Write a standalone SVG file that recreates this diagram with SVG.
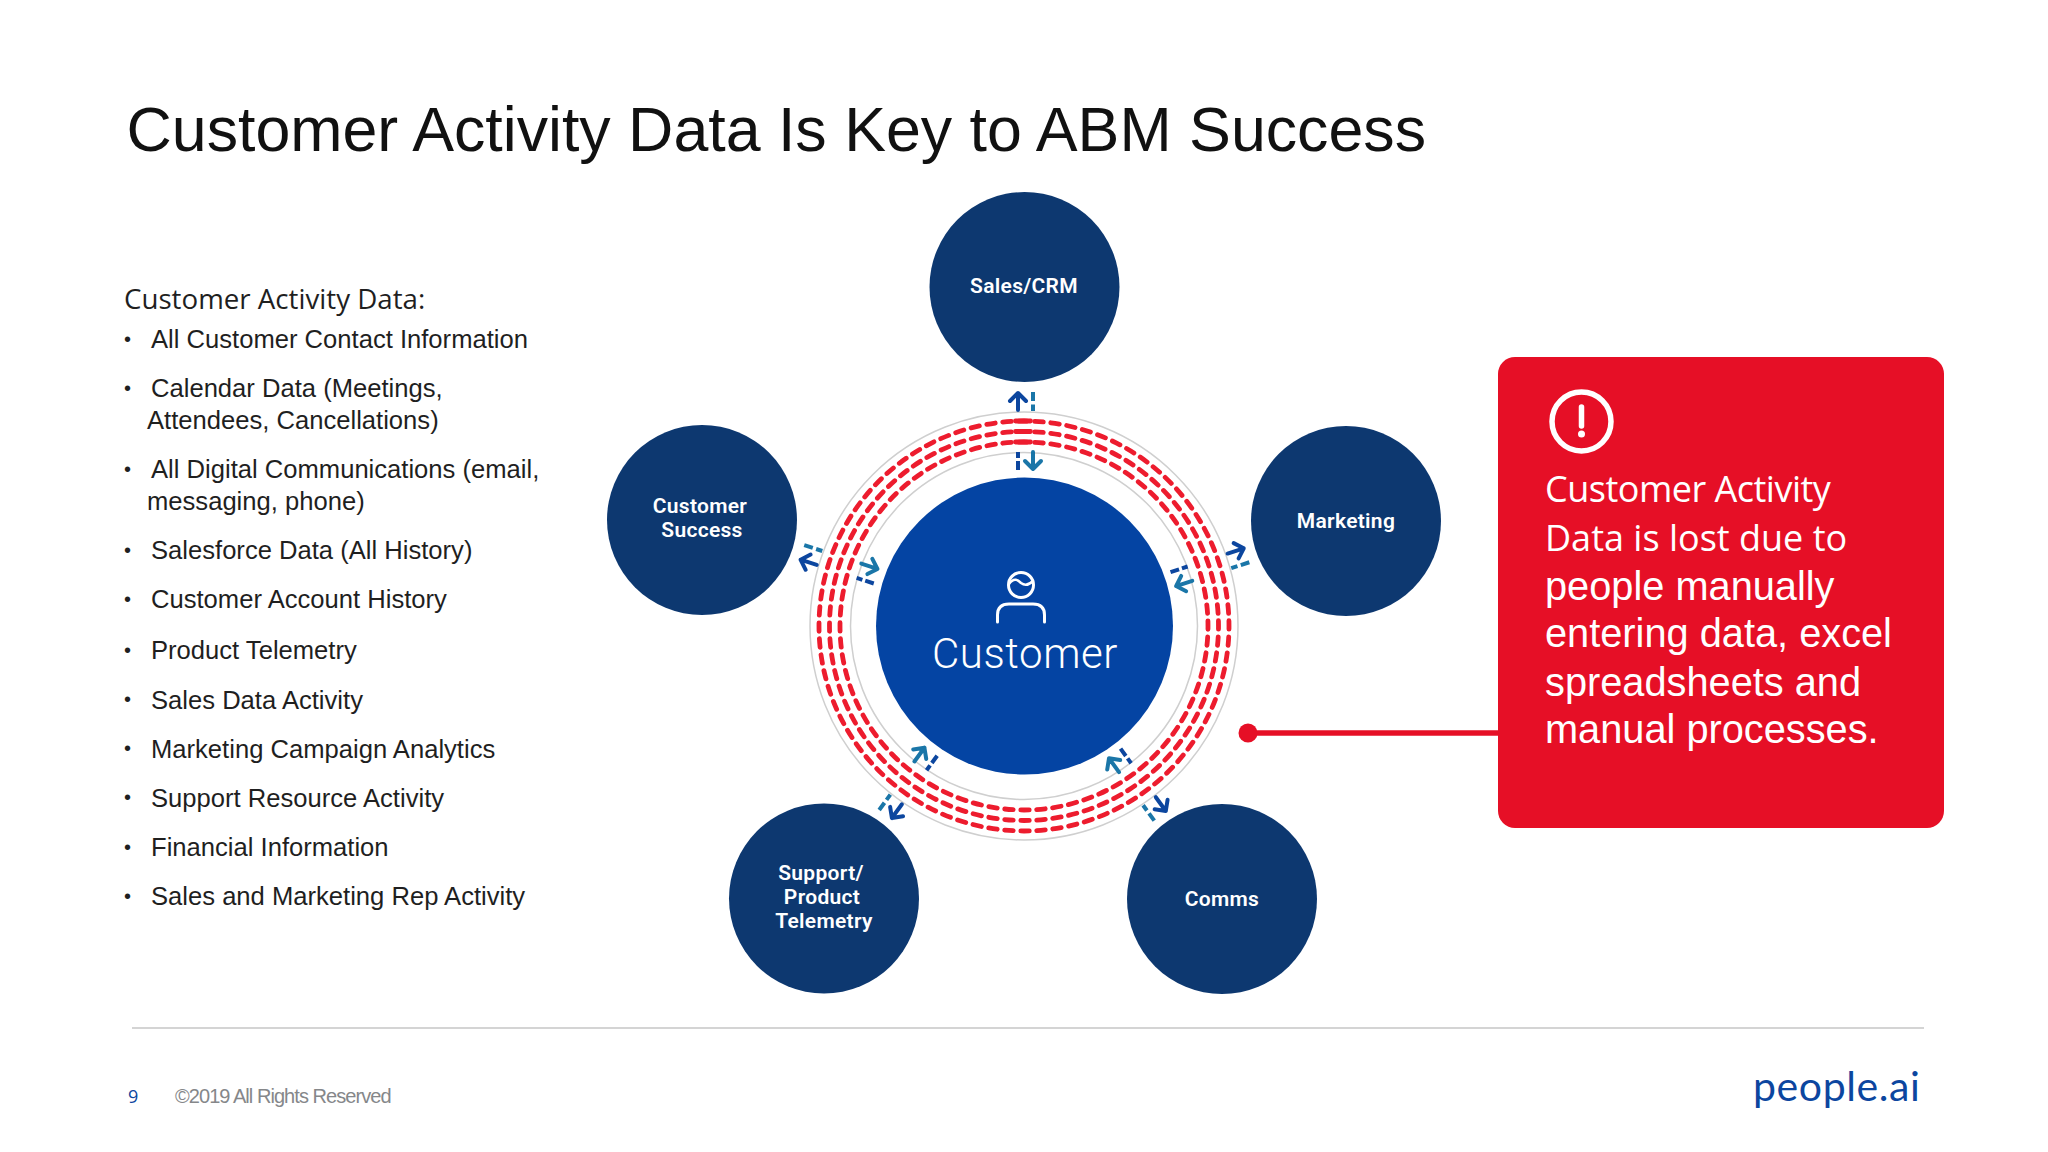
<svg xmlns="http://www.w3.org/2000/svg" width="2048" height="1152" viewBox="0 0 2048 1152">
<style>
.sans{font-family:"Liberation Sans",Arial,sans-serif}
.li{font-family:"Liberation Sans",Arial,sans-serif;font-size:25.6px;fill:#1f1f1f}
.bu{font-family:"Liberation Sans",Arial,sans-serif;font-size:20px;fill:#1f1f1f}
.node{fill:#0d3870}
.nl{font-family:Roboto,"Liberation Sans",sans-serif;font-size:21px;font-weight:600;letter-spacing:.3px;fill:#fff;text-anchor:middle}
.rt{font-family:"Liberation Sans",Arial,sans-serif;font-size:39.75px;fill:#fff}
.rc{font-family:"Open Sans","Liberation Sans",sans-serif;font-size:36px;fill:#fff}
.rd{fill:none;stroke:#ed1c2e;stroke-width:4.8;stroke-linecap:round;stroke-dasharray:.53 .47}
.rl{fill:none;stroke:#ed1c2e;stroke-width:4.8;stroke-linecap:round}
.a1{fill:none;stroke:#0c469f;stroke-width:4;stroke-linecap:round;stroke-linejoin:round}
.a2{fill:none;stroke:#1a76a8;stroke-width:4;stroke-linecap:round;stroke-linejoin:round}
.d1{fill:none;stroke:#0c469f;stroke-width:4}
.d2{fill:none;stroke:#1a76a8;stroke-width:4}
</style>
<defs>
<g id="arrows">
<path class="a1" d="M1018 410V393M1010 401L1018 393L1026 401"/>
<path class="d2" stroke-dasharray="9 3.5 7" d="M1033 392V411"/>
<path class="d1" stroke-dasharray="6 3 10" d="M1018 452V470"/>
<path class="a2" d="M1033 452V469M1025 461L1033 469L1041 461"/>
</g>
</defs>
<rect width="2048" height="1152" fill="#fff"/>
<text id="title" class="sans" x="126.5" y="150.5" font-size="62.7" fill="#111">Customer Activity Data Is Key to ABM Success</text>

<g id="list">
<text x="124" y="309" font-family="'Open Sans','Noto Sans',sans-serif" font-size="27.7" fill="#1f1f1f">Customer Activity Data:</text>
<g class="bu">
<text x="124" y="346">•</text><text x="124" y="395">•</text><text x="124" y="476">•</text><text x="124" y="557">•</text><text x="124" y="606">•</text><text x="124" y="657">•</text><text x="124" y="706">•</text><text x="124" y="755">•</text><text x="124" y="804">•</text><text x="124" y="854">•</text><text x="124" y="903">•</text>
</g>
<text class="li" x="151" y="348">All Customer Contact Information</text>
<text class="li" x="151" y="397">Calendar Data (Meetings,</text>
<text class="li" x="147" y="429">Attendees, Cancellations)</text>
<text class="li" x="151" y="478">All Digital Communications (email,</text>
<text class="li" x="147" y="510">messaging, phone)</text>
<text class="li" x="151" y="559">Salesforce Data (All History)</text>
<text class="li" x="151" y="608">Customer Account History</text>
<text class="li" x="151" y="659">Product Telemetry</text>
<text class="li" x="151" y="709">Sales Data Activity</text>
<text class="li" x="151" y="758">Marketing Campaign Analytics</text>
<text class="li" x="151" y="807">Support Resource Activity</text>
<text class="li" x="151" y="856">Financial Information</text>
<text class="li" x="151" y="905">Sales and Marketing Rep Activity</text>
</g>

<g id="connectors">
<circle cx="1024" cy="626" r="214" fill="none" stroke="#cfcfcf" stroke-width="1.5"/>
<circle cx="1024" cy="626" r="173.5" fill="none" stroke="#cfcfcf" stroke-width="1.5"/>
<circle class="rd" cx="1024" cy="626" r="205" pathLength="80" transform="rotate(-91.47 1024 626)"/>
<circle class="rd" cx="1024" cy="626" r="194.5" pathLength="76" transform="rotate(-91.55 1024 626)"/>
<circle class="rd" cx="1024" cy="626" r="184" pathLength="72" transform="rotate(-91.62 1024 626)"/>
<path class="rl" d="M1015.5 421H1030.5M1015.5 431.5H1030.5M1015.5 442H1030.5"/>
<use href="#arrows"/>
<use href="#arrows" transform="rotate(72 1024 626)"/>
<use href="#arrows" transform="rotate(144 1024 626)"/>
<use href="#arrows" transform="rotate(216 1024 626)"/>
<use href="#arrows" transform="rotate(288 1024 626)"/>
<path d="M1248 733H1498" stroke="#e60f26" stroke-width="5.5" fill="none"/>
<circle cx="1248" cy="733" r="9.5" fill="#e60f26"/>
</g>

<g id="customer">
<circle cx="1024.5" cy="626" r="148.5" fill="#0444a3"/>
<circle cx="1021" cy="585" r="12.5" fill="none" stroke="#fff" stroke-width="3"/>
<path d="M1009 584C1014 577 1018 580 1021 583C1025 586 1029 585 1033 581" fill="none" stroke="#fff" stroke-width="2.5"/>
<path d="M997.5 622V615Q997.5 604 1009 604H1033Q1044.5 604 1044.5 615V622" fill="none" stroke="#fff" stroke-width="3" stroke-linecap="round"/>
<text x="1025" y="668" font-family="Roboto,'Liberation Sans',sans-serif" font-weight="300" font-size="42" letter-spacing=".6" fill="#fff" text-anchor="middle">Customer</text>
</g>
<g id="sales-crm"><circle class="node" cx="1024.5" cy="287" r="95"/><text class="nl" x="1024" y="293">Sales/CRM</text></g>
<g id="customer-success"><circle class="node" cx="702" cy="520" r="95"/><text class="nl" x="700" y="513">Customer</text><text class="nl" x="702" y="537">Success</text></g>
<g id="marketing"><circle class="node" cx="1346" cy="521" r="95"/><text class="nl" x="1346" y="528">Marketing</text></g>
<g id="support"><circle class="node" cx="824" cy="898.5" r="95"/><text class="nl" x="821" y="880">Support/</text><text class="nl" x="822" y="904">Product</text><text class="nl" x="824" y="928">Telemetry</text></g>
<g id="comms"><circle class="node" cx="1222" cy="899" r="95"/><text class="nl" x="1222" y="906">Comms</text></g>

<g id="callout">
<rect x="1498" y="357" width="446" height="471" rx="17" fill="#e60f26"/>
<circle cx="1581.5" cy="421.5" r="29.5" fill="none" stroke="#fff" stroke-width="5.5"/>
<path d="M1581.5 407V426" stroke="#fff" stroke-width="5.5" stroke-linecap="round"/>
<circle cx="1581.5" cy="434" r="3.5" fill="#fff"/>
<text class="rc" x="1545" y="502" letter-spacing="-.5">Customer Activity</text>
<text class="rc" x="1545" y="551">Data is lost due to</text>
<text class="rt" x="1545" y="600">people manually</text>
<text class="rt" x="1545" y="647">entering data, excel</text>
<text class="rt" x="1545" y="696">spreadsheets and</text>
<text class="rt" x="1545" y="743">manual processes.</text>
</g>

<g id="footer">
<path d="M132 1028H1924" stroke="#d4d4d4" stroke-width="2"/>
<text x="128" y="1103" font-family="'Open Sans',sans-serif" font-size="18" fill="#0c469f">9</text>
<text x="175" y="1103" font-family="'Liberation Sans',sans-serif" font-size="20" letter-spacing="-0.95" fill="#85878a">©2019 All Rights Reserved</text>
<text x="1753" y="1101" font-family="Lato,'Open Sans',sans-serif" font-weight="400" font-size="41" letter-spacing=".6" fill="#0c469f">people.ai</text>
</g>
</svg>
